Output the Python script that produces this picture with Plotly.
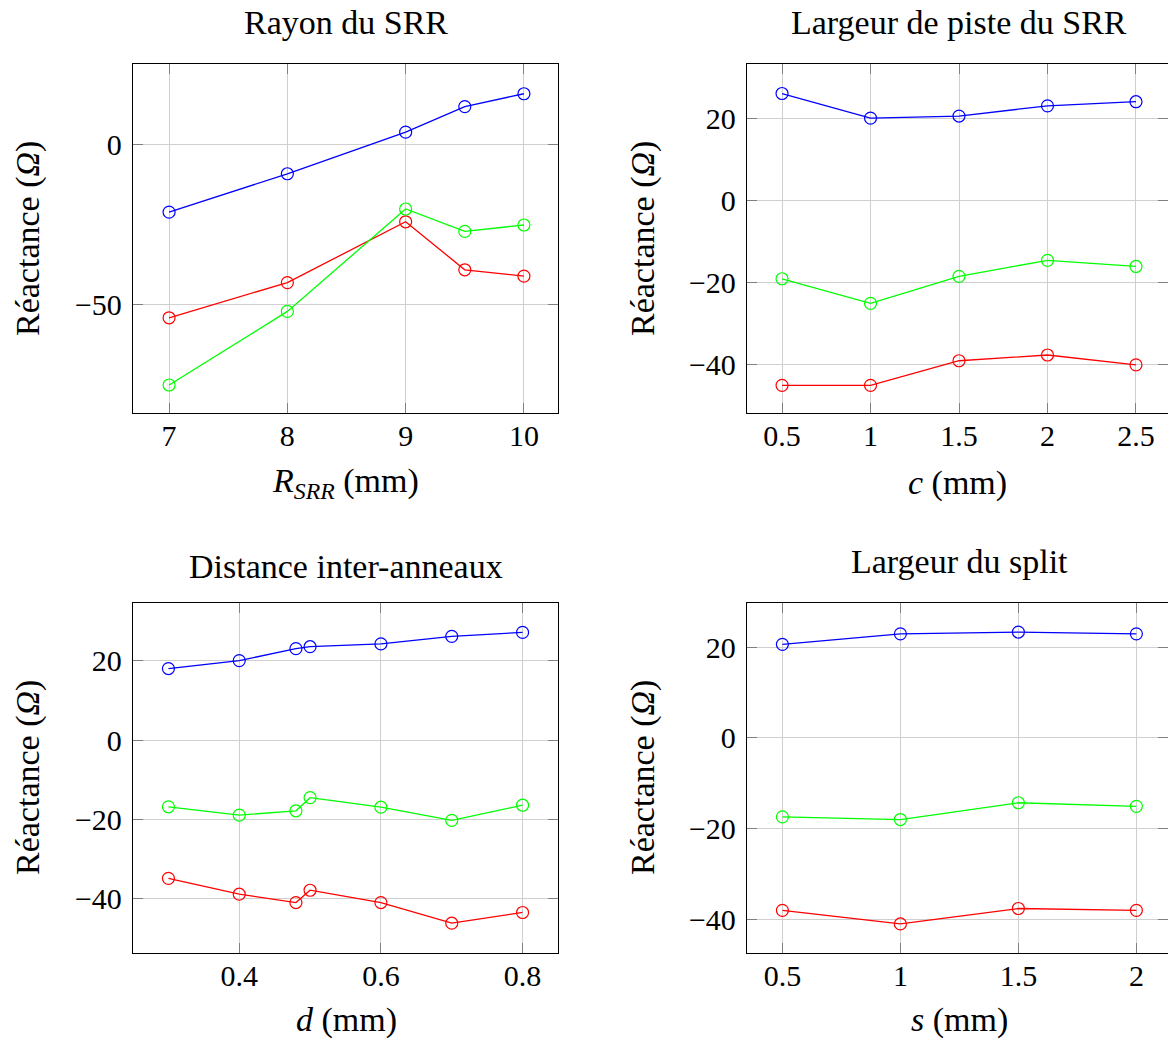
import plotly.graph_objects as go

# ---------------- data ----------------
# Panel 1 : Rayon du SRR
r_srr = [7, 8, 9, 9.5, 10]
r_blue = [-21, -9, 4, 12, 16]
r_green = [-75, -52, -20, -27, -25]
r_red = [-54, -43, -24, -39, -41]

# Panel 2 : Largeur de piste du SRR
c_mm = [0.5, 1, 1.5, 2, 2.5]
c_blue = [26, 20, 20.5, 23, 24]
c_green = [-19.2, -25.2, -18.6, -14.7, -16.2]
c_red = [-45.2, -45.2, -39.2, -37.8, -40.2]

# Panel 3 : Distance inter-anneaux
d_mm = [0.3, 0.4, 0.48, 0.5, 0.6, 0.7, 0.8]
d_blue = [18, 20, 23, 23.5, 24.2, 26.1, 27.1]
d_green = [-16.8, -18.9, -17.8, -14.5, -16.9, -20.2, -16.4]
d_red = [-34.8, -38.8, -40.9, -37.8, -40.9, -46.1, -43.4]

# Panel 4 : Largeur du split
s_mm = [0.5, 1, 1.5, 2]
s_blue = [20.6, 22.9, 23.3, 22.9]
s_green = [-17.4, -18.0, -14.3, -15.1]
s_red = [-38.0, -41.0, -37.6, -38.0]

# tick labels
x1_ticks = [7, 8, 9, 10]
x1_text = ["7", "8", "9", "10"]
y1_ticks = [-50, 0]
y1_text = ["\u221250", "0"]
x2_ticks = [0.5, 1, 1.5, 2, 2.5]
x2_text = ["0.5", "1", "1.5", "2", "2.5"]
x3_ticks = [0.4, 0.6, 0.8]
x3_text = ["0.4", "0.6", "0.8"]
x4_ticks = [0.5, 1, 1.5, 2]
x4_text = ["0.5", "1", "1.5", "2"]
y_ticks = [-40, -20, 0, 20]
y_text = ["\u221240", "\u221220", "0", "20"]

titles = ["Rayon du SRR", "Largeur de piste du SRR", "Distance inter-anneaux", "Largeur du split"]
xlabels = ["<i>R</i><sub><i>SRR</i></sub> (mm)", "<i>c</i> (mm)", "<i>d</i> (mm)", "<i>s</i> (mm)"]
ylabel = "Réactance (<i>Ω</i>)"

# ---------------- figure ----------------
W, H = 1168, 1039
FONT = "Liberation Serif"
TICK_SIZE = 30
TITLE_SIZE = 34
LAB_SIZE = 34

BLUE, GREEN, RED = "#0000ff", "#00ff00", "#ff0000"

fig = go.Figure()

panels = [
    (r_srr, r_blue, r_green, r_red),
    (c_mm, c_blue, c_green, c_red),
    (d_mm, d_blue, d_green, d_red),
    (s_mm, s_blue, s_green, s_red),
]

for i, (xv, yb, yg, yr) in enumerate(panels):
    ax = "" if i == 0 else str(i + 1)
    for yv, col in [(yb, BLUE), (yr, RED), (yg, GREEN)]:
        fig.add_trace(go.Scatter(
            x=xv, y=yv, mode="lines+markers",
            line=dict(color=col, width=1.3),
            marker=dict(symbol="circle-open", size=12, color=col, line=dict(width=1.2, color=col)),
            xaxis="x" + ax, yaxis="y" + ax, showlegend=False, cliponaxis=False,
        ))

def px_x(p):
    return p / W

def px_y(p):
    return 1 - p / H

left_dom = [px_x(133), px_x(558)]
right_dom = [px_x(747), 1.0]
top_dom = [px_y(413), px_y(64)]
bot_dom = [px_y(953), px_y(603)]

common = dict(
    showline=True, linecolor="black", linewidth=1.3, mirror="allticks",
    ticks="inside", ticklen=10, tickwidth=1.2, tickcolor="#808080",
    showgrid=True, gridcolor="#cfcfcf", gridwidth=1.3, zeroline=False,
    tickfont=dict(family=FONT, size=TICK_SIZE, color="black"),
)

xcfg = [
    dict(domain=left_dom, range=[6.695, 10.288], tickvals=x1_ticks, ticktext=x1_text, anchor="y"),
    dict(domain=right_dom, range=[0.302, 2.681], tickvals=x2_ticks, ticktext=x2_text, anchor="y2"),
    dict(domain=left_dom, range=[0.25, 0.85], tickvals=x3_ticks, ticktext=x3_text, anchor="y3"),
    dict(domain=right_dom, range=[0.35, 2.134], tickvals=x4_ticks, ticktext=x4_text, anchor="y4"),
]
ycfg = [
    dict(domain=top_dom, range=[-83.75, 25.3], tickvals=y1_ticks, ticktext=y1_text, anchor="x"),
    dict(domain=top_dom, range=[-51.95, 33.2], tickvals=y_ticks, ticktext=y_text, anchor="x2"),
    dict(domain=bot_dom, range=[-53.6, 34.5], tickvals=y_ticks, ticktext=y_text, anchor="x3"),
    dict(domain=bot_dom, range=[-47.4, 29.7], tickvals=y_ticks, ticktext=y_text, anchor="x4"),
]

layout = dict(
    width=W, height=H, margin=dict(l=0, r=0, t=0, b=0),
    plot_bgcolor="white", paper_bgcolor="white",
    font=dict(family=FONT, size=LAB_SIZE, color="black"),
)
for i in range(4):
    k = "" if i == 0 else str(i + 1)
    layout["xaxis" + k] = dict(**common, **xcfg[i], ticklabelstandoff=-4)
    layout["yaxis" + k] = dict(**common, **ycfg[i], ticklabelstandoff=4)

fig.update_layout(**layout)

# titles
title_pos = [(346, 22), (959, 22), (346, 566), (959, 561)]
for t, (x, y) in zip(titles, title_pos):
    fig.add_annotation(text=t, x=px_x(x), y=px_y(y), xref="paper", yref="paper",
                       xanchor="center", yanchor="middle", showarrow=False,
                       font=dict(family=FONT, size=TITLE_SIZE, color="black"))

# x labels
xlab_pos = [(345, 483), (957, 483), (346, 1020), (959, 1020)]
for t, (x, y) in zip(xlabels, xlab_pos):
    fig.add_annotation(text=t, x=px_x(x), y=px_y(y), xref="paper", yref="paper",
                       xanchor="center", yanchor="middle", showarrow=False,
                       font=dict(family=FONT, size=LAB_SIZE, color="black"))

# y labels
ylab_pos = [(28, 239), (643, 239), (28, 778), (643, 778)]
for (x, y) in ylab_pos:
    fig.add_annotation(text=ylabel, x=px_x(x), y=px_y(y), xref="paper", yref="paper",
                       xanchor="center", yanchor="middle", textangle=-90, showarrow=False,
                       font=dict(family=FONT, size=LAB_SIZE, color="black"))

fig.write_html("out.html", config={"displayModeBar": False},
               post_script="document.body.style.margin='0px';document.body.style.overflow='hidden';")
